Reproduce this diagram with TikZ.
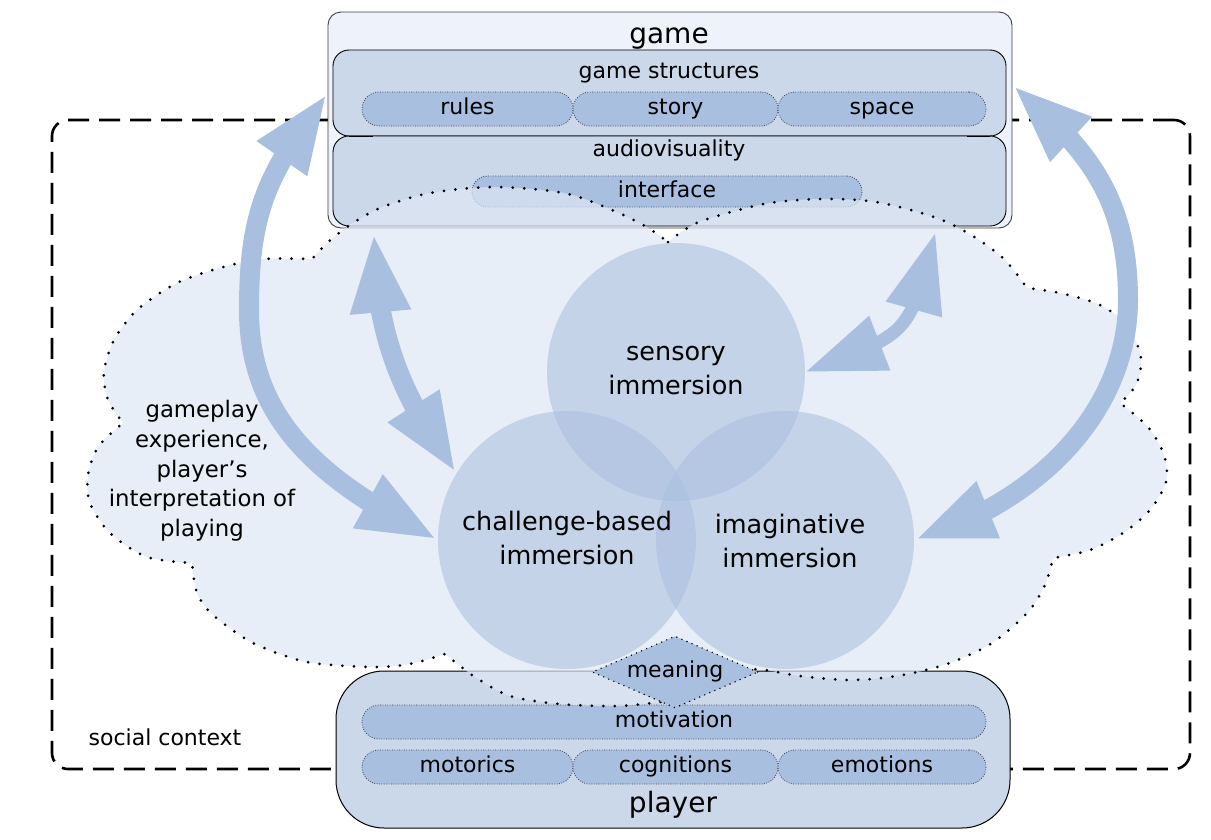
\documentclass[tikz,border=0pt]{standalone}
\usepackage{fontspec}
\setmainfont{DejaVu Sans}
\usetikzlibrary{arrows.meta,bending,shapes.geometric,calc}
\definecolor{pillblue}{RGB}{169,191,224}
\definecolor{boxblue}{RGB}{203,216,234}
\definecolor{gamebg}{RGB}{238,242,250}
\definecolor{cloudc}{RGB}{222,231,244}
\definecolor{arrowc}{RGB}{169,191,223}
\definecolor{pilledge}{RGB}{60,60,75}
\begin{document}
\begin{tikzpicture}[x=1pt,y=-1pt,
  bigbox/.style={draw=black, line width=0.9pt, fill=boxblue, rounded corners=16pt, inner sep=0pt},
  pill/.style={rounded corners=17pt, fill=pillblue, draw=pilledge, dash pattern=on 0.8pt off 1.6pt, line width=0.8pt, minimum height=34pt, inner sep=0pt, text height=16pt, text depth=5pt, font=\fontsize{22}{26}\selectfont},
  lbl/.style={inner sep=0pt, text height=16pt, text depth=5pt, font=\fontsize{22}{26}\selectfont},
  titl/.style={inner sep=0pt, anchor=base, font=\fontsize{28}{32}\selectfont},
  circ/.style={circle, fill=arrowc, fill opacity=0.55, minimum size=258pt, inner sep=0pt},
  ctext/.style={align=center, inner sep=0pt, font=\fontsize{25.5}{34}\selectfont},
  flow/.style={draw=arrowc, line width=20pt, >={Triangle[length=80pt,width=55pt]}, <->},
  cloudedge/.style={draw=black, line width=3pt, dash pattern=on 0pt off 11.5pt, line cap=round},
]
\useasboundingbox (0,0) rectangle (1211,839);

% social context frame
\node[draw=black, line width=2.6pt, dash pattern=on 21pt off 10pt, rounded corners=16pt,
      minimum width=1138pt, minimum height=649pt, inner sep=0pt] (social) at (621,444.5) {};

% game
\node[draw=black!75, line width=0.9pt, fill=gamebg, rounded corners=13pt,
      minimum width=684pt, minimum height=216pt, inner sep=0pt] (game) at (670,120) {};
\node[titl] (gametitle) at (669,43) {game};
\node[bigbox, minimum width=673pt, minimum height=86pt] (struct) at (669.5,93) {};
\node[bigbox, minimum width=673pt, minimum height=90pt] (audio) at (669.5,181) {};
\draw[line width=0.9pt] ($(struct.south west)+(16,0)$) -- ($(struct.south west)+(40,0)$);
\draw[line width=0.9pt] ($(struct.south east)+(-16,0)$) -- ($(struct.south east)+(-39,0)$);
\node[lbl] (gstext) at (669,73) {game structures};
\node[pill, minimum width=211pt] (rules) at (467.5,109) {rules};
\node[pill, minimum width=205pt] (story) at (675.5,109) {story};
\node[pill, minimum width=208pt] (space) at (882,109) {space};
\node[lbl] (avtext) at (669,151) {audiovisuality};
\node[pill, minimum width=390pt, minimum height=31pt, rounded corners=15.5pt] (iface) at (667,191.5) {interface};

% player
\node[bigbox, rounded corners=48pt, line width=1pt, minimum width=674pt, minimum height=157pt] (player) at (673,749.5) {};
\node[pill, minimum width=624pt] (motiv) at (674,722) {motivation};
\node[pill, minimum width=211pt] (motor) at (467.5,767) {motorics};
\node[pill, minimum width=205pt] (cogn) at (675.5,767) {cognitions};
\node[pill, minimum width=208pt] (emot) at (882,767) {emotions};
\node[titl] (ptitle) at (673,812) {player};

% cloud
\path[fill=cloudc, fill opacity=0.71, cloudedge]
  plot[smooth] coordinates {(668,242) (699,222) (764,204) (820,199) (876,202) (937,218) (976,238) (1005,260) (1027,288)}
  -- plot[smooth] coordinates {(1027,288) (1060,293) (1100,305) (1128,326) (1141,358) (1136,385) (1120,403)}
  -- plot[smooth] coordinates {(1120,403) (1148,427) (1164,455) (1166,482) (1150,510) (1123,533) (1090,550) (1053,558)}
  -- plot[smooth] coordinates {(1053,558) (1045,585) (1028,612) (992,643) (947,664) (897,676) (850,680) (800,676) (765,670) (730,668)}
  -- plot[smooth] coordinates {(675,700) (620,706) (560,704) (510,696) (475,677) (445,654)}
  -- plot[smooth] coordinates {(445,654) (410,664) (373,667) (307,662) (253,643) (213,615) (197,593) (192,563)}
  -- plot[smooth] coordinates {(192,563) (147,557) (110,533) (90,503) (88,475) (98,447) (123,423)}
  -- plot[smooth] coordinates {(123,423) (108,400) (104,372) (114,340) (137,310) (177,283) (223,267) (265,259) (312,259)}
  -- plot[smooth] coordinates {(312,259) (326,244) (347,227) (380,208) (430,193) (495,187) (564,193) (612,210) (645,226) (668,242)}
  -- cycle;

% immersion circles
\node[circ] (sens) at (676,372) {};
\node[circ] (chal) at (567,540) {};
\node[circ] (imag) at (785,540) {};

% arrows
\coordinate (lb) at (249,310);
\coordinate (rb) at (1128,300);
\coordinate (a) at (game.west |- struct.west);
\coordinate (c) at ($(game.east |- struct.east)+(0,-8)$);
\coordinate (e) at ($(game.south west)+(46,4)$);
\coordinate (g) at ($(game.south east)+(-77,4)$);
\draw[flow] (a) .. controls +(-60,80) and +(0,-100) .. (lb) .. controls +(0,110) and +(-117,-58) .. (chal.west);
\draw[flow] (e) .. controls +(2,100) and +(-58,-82) .. (chal.149);
\draw[flow, line width=13pt] (g) .. controls +(-27,107) and +(103,-39) .. (sens.east);
\draw[flow] (c) .. controls +(77,64) and +(0,-100) .. (rb) .. controls +(0,110) and +(125,-37) .. (imag.east);

% meaning
\node[diamond, aspect=2.3, fill=pillblue, draw=black, line width=1.6pt, dash pattern=on 0pt off 5.5pt, line cap=round,
      minimum width=166pt, minimum height=72pt, inner sep=0pt, text height=16pt, text depth=5pt,
      font=\fontsize{22}{26}\selectfont] (meaning) at (675,672) {meaning};

% texts
\node[ctext] (senstext) at ($(sens)+(0,-1)$) {sensory\\immersion};
\node[ctext] (chaltext) at ($(chal)+(0,-2)$) {challenge-based\\immersion};
\node[ctext] (imagtext) at ($(imag)+(5,1)$) {imaginative\\immersion};
\node[align=center, inner sep=0pt, font=\fontsize{22.8}{29.7}\selectfont] (gp) at (202,471)
  {gameplay\\experience,\\player’s\\interpretation of\\playing};
\node[lbl] (soctext) at (165,740) {social context};
\end{tikzpicture}
\end{document}
